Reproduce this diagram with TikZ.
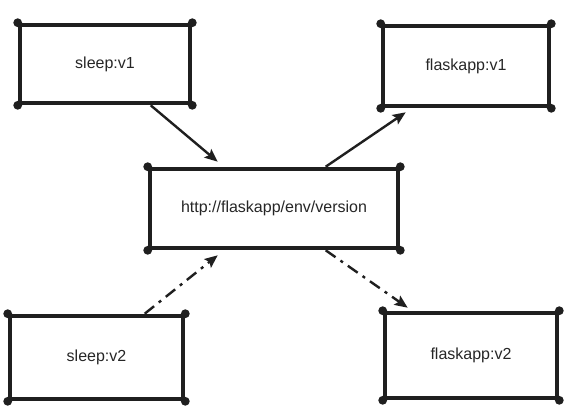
\documentclass[tikz,border=0pt]{standalone}
\usepackage{fontspec}
\setmainfont{Liberation Sans}
\usetikzlibrary{positioning,calc,arrows.meta}

\begin{document}
\begin{tikzpicture}[x=1pt,y=-1pt,
    box/.style={shape=rectangle,draw=black!88,line width=4.6pt,font=\fontsize{16}{19}\selectfont,text=black!85},
    link/.style={line width=2.4pt,black!88,-{Stealth[length=13pt,width=11pt,inset=2.5pt]}},
    dashlink/.style={link,dash pattern=on 12pt off 6pt on 3pt off 6pt}]
      \useasboundingbox (0,0) rectangle (567,408);

      % setup the nodes
      \node[box,minimum width=170pt,minimum height=78pt] (sleep1) at (105,64) {sleep:v1};
      \node[box,minimum width=166pt,minimum height=80pt] (flask1) at (466,66) {flaskapp:v1};
      \node[box,minimum width=248pt,minimum height=79pt] (version) at (274,208.5) {http://flaskapp/env/version};
      \node[box,minimum width=173pt,minimum height=83pt] (sleep2) at (96.5,357.5) {sleep:v2};
      \node[box,minimum width=172pt,minimum height=85pt] (flask2) at (471,355.5) {flaskapp:v2};

      % dots on the corners
      \foreach \n in {sleep1,flask1,version,sleep2,flask2}
      \foreach \a in {north west,north east,south west,south east}
      {
        \fill[black!88] (\n.\a) circle (4.4pt);
      }

      \draw [link] ([xshift=133pt]sleep1.south west) -- ([xshift=70pt,yshift=5pt]version.north west);
      \draw [link] ([xshift=178pt]version.north west) -- ([xshift=25pt,yshift=-4pt]flask1.south west);
      \draw [dashlink] ([xshift=137pt]sleep2.north west) -- ([xshift=70pt,yshift=-5pt]version.south west);
      \draw [dashlink] ([xshift=178pt]version.south west) -- ([xshift=25pt,yshift=3pt]flask2.north west);

\end{tikzpicture}
\end{document}
